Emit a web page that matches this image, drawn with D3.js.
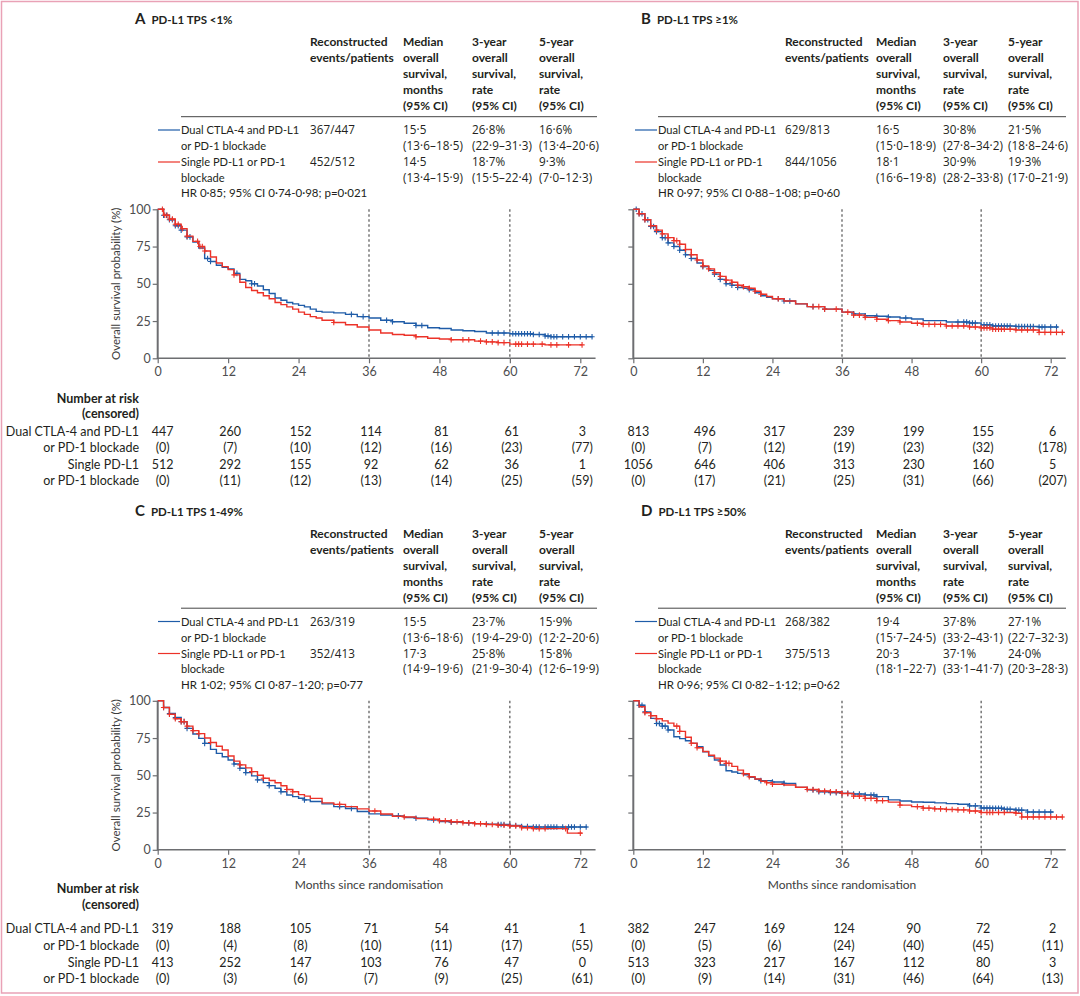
<!DOCTYPE html>
<html><head><meta charset="utf-8">
<script src="https://cdn.jsdelivr.net/npm/d3@7"></script>
<style>
body{margin:0;background:#fff}
svg{display:block}
</style>
</head><body>
<svg id="chart" width="1080" height="996" font-family="Lato,'Open Sans',sans-serif"></svg>
<script>
// ---------- DATA ----------
const timeTicks = [0, 12, 24, 36, 48, 60, 72];
const survTicks = [0, 25, 50, 75, 100];
const landmarks = [36, 60];
const panelLetters = ["A", "B", "C", "D"];
const panelTitles = ["PD-L1 TPS <1%", "PD-L1 TPS \u22651%", "PD-L1 TPS 1-49%", "PD-L1 TPS \u226550%"];
const colHeaders = [
  ["Reconstructed", "events/patients"],
  ["Median", "overall", "survival,", "months", "(95% CI)"],
  ["3-year", "overall", "survival,", "rate", "(95% CI)"],
  ["5-year", "overall", "survival,", "rate", "(95% CI)"]
];
const dualLabel = ["Dual CTLA-4 and PD-L1", "or PD-1 blockade"];
const singleLabel = ["Single PD-L1 or PD-1", "blockade"];
const riskLabelsDual = ["Dual CTLA-4 and PD-L1", "or PD-1 blockade"];
const riskLabelsSingle = ["Single PD-L1", "or PD-1 blockade"];

const eventsDual = ["367/447", "629/813", "263/319", "268/382"];
const eventsSingle = ["452/512", "844/1056", "352/413", "375/513"];
const medianDual = [["15\u00b75", "(13\u00b76\u201318\u00b75)"], ["16\u00b75", "(15\u00b70\u201318\u00b79)"], ["15\u00b75", "(13\u00b76\u201318\u00b76)"], ["19\u00b74", "(15\u00b77\u201324\u00b75)"]];
const medianSingle = [["14\u00b75", "(13\u00b74\u201315\u00b79)"], ["18\u00b71", "(16\u00b76\u201319\u00b78)"], ["17\u00b73", "(14\u00b79\u201319\u00b76)"], ["20\u00b73", "(18\u00b71\u201322\u00b77)"]];
const os3Dual = [["26\u00b78%", "(22\u00b79\u201331\u00b73)"], ["30\u00b78%", "(27\u00b78\u201334\u00b72)"], ["23\u00b77%", "(19\u00b74\u201329\u00b70)"], ["37\u00b78%", "(33\u00b72\u201343\u00b71)"]];
const os3Single = [["18\u00b77%", "(15\u00b75\u201322\u00b74)"], ["30\u00b79%", "(28\u00b72\u201333\u00b78)"], ["25\u00b78%", "(21\u00b79\u201330\u00b74)"], ["37\u00b71%", "(33\u00b71\u201341\u00b77)"]];
const os5Dual = [["16\u00b76%", "(13\u00b74\u201320\u00b76)"], ["21\u00b75%", "(18\u00b78\u201324\u00b76)"], ["15\u00b79%", "(12\u00b72\u201320\u00b76)"], ["27\u00b71%", "(22\u00b77\u201332\u00b73)"]];
const os5Single = [["9\u00b73%", "(7\u00b70\u201312\u00b73)"], ["19\u00b73%", "(17\u00b70\u201321\u00b79)"], ["15\u00b78%", "(12\u00b76\u201319\u00b79)"], ["24\u00b70%", "(20\u00b73\u201328\u00b73)"]];
const hrText = [
  "HR 0\u00b785; 95% CI 0\u00b774-0\u00b798; p=0\u00b7021",
  "HR 0\u00b797; 95% CI 0\u00b788\u20131\u00b708; p=0\u00b760",
  "HR 1\u00b702; 95% CI 0\u00b787\u20131\u00b720; p=0\u00b777",
  "HR 0\u00b796; 95% CI 0\u00b782\u20131\u00b712; p=0\u00b762"
];

const riskDualA = [447, 260, 152, 114, 81, 61, 3];
const censDualA = [0, 7, 10, 12, 16, 23, 77];
const riskSingleA = [512, 292, 155, 92, 62, 36, 1];
const censSingleA = [0, 11, 12, 13, 14, 25, 59];
const riskDualB = [813, 496, 317, 239, 199, 155, 6];
const censDualB = [0, 7, 12, 19, 23, 32, 178];
const riskSingleB = [1056, 646, 406, 313, 230, 160, 5];
const censSingleB = [0, 17, 21, 25, 31, 66, 207];
const riskDualC = [319, 188, 105, 71, 54, 41, 1];
const censDualC = [0, 4, 8, 10, 11, 17, 55];
const riskSingleC = [413, 252, 147, 103, 76, 47, 0];
const censSingleC = [0, 3, 6, 7, 9, 25, 61];
const riskDualD = [382, 247, 169, 124, 90, 72, 2];
const censDualD = [0, 5, 6, 24, 40, 45, 11];
const riskSingleD = [513, 323, 217, 167, 112, 80, 3];
const censSingleD = [0, 9, 14, 31, 46, 64, 13];

// KM curves: [month, survival %]
const kmDualA = [[0,100],[1,96],[2,93],[3,89],[4,86],[5,81.5],[6,78],[7,74],[8,67],[9,65],[10,62.5],[11,61],[12,60],[13,57],[14,53],[15,52],[16,50],[17,48.5],[18,46],[19,43.5],[20,40.5],[21,39],[22,37.5],[23,36.5],[24,35.5],[25,34.5],[26,33],[27,31.5],[28,31],[30,30.5],[32,29.5],[34,28],[36,27],[38,25.5],[40,24.5],[42,23.5],[44,22],[46,20.5],[48,20],[50,19],[52,18.5],[54,18],[56,17],[60,16.5],[64,16],[66,15],[67,14.5],[74.1,14.5]];
const kmSingleA = [[0,100],[1,96],[2,93.5],[3,90],[4,87],[5,82],[6,78.5],[7,75],[8,72],[9,68],[10,64],[11,61.5],[12,59.5],[13,56],[14,51],[15,47.5],[16,45.5],[17,44],[18,42],[19,40],[20,37.5],[21,36],[22,34.5],[23,33],[24,31],[25,29.5],[26,28],[27,27],[28,25.5],[30,24],[32,22.5],[34,21],[36,19],[38,17],[40,16],[42,15.5],[44,14.5],[46,13.5],[48,13],[50,12.5],[54,11.5],[56,11],[58,10.5],[60,9.5],[66,9],[72.3,9]];
const kmDualB = [[0,100],[1,97],[2,93],[3,88.5],[4,85],[5,81],[6,77.5],[7,75],[8,72.5],[9,69.5],[10,67],[11,64],[12,61.5],[13,59],[14,56.5],[15,53],[16,50],[17,49],[18,47.5],[19,47],[20,46],[21,44],[22,42],[23,41],[24,40],[26,38.5],[28,36.5],[30,34.7],[33,33],[36,31],[38,29.8],[40,28.6],[42,28.2],[44,27.7],[46,27],[48,26.4],[50,25.3],[54,24.4],[58,23.7],[60,22.4],[62,21.7],[66,21.3],[70,21],[73.3,21]];
const kmSingleB = [[0,100],[1,97],[2,93],[3,89],[4,86],[5,83.5],[6,81],[7,79],[8,76.5],[9,73],[10,69.5],[11,66],[12,62],[13,60],[14,57.5],[15,55],[16,52.5],[17,51],[18,49],[19,48],[20,47],[21,45],[22,43],[23,41.5],[24,40],[26,38.5],[28,36.5],[30,34.7],[33,33],[36,31],[38,29],[40,27.5],[42,26.2],[44,25.3],[46,24.4],[48,23.5],[50,22.8],[54,21.7],[58,21],[60,20.4],[62,19.5],[66,19],[70,17.4],[74.2,17.4]];
const kmDualC = [[0,100],[1,95.5],[2,91.5],[3,88.8],[4,86],[5,81.5],[6,77.7],[7,74.8],[8,71.4],[9,67.4],[10,64.7],[11,62.5],[12,60.3],[13,57.6],[14,54.7],[15,51.8],[16,49.6],[17,46.9],[18,45.1],[19,43.1],[20,41.3],[21,39],[22,36.8],[23,35.7],[24,34.6],[25,33.5],[26,32.4],[28,30.8],[30,29],[32,27.7],[34,25.7],[36,24.1],[38,23.4],[40,22.8],[42,21.7],[44,21.2],[46,20.1],[48,19],[50,18.5],[52,18.1],[54,17.6],[56,17.2],[58,17],[60,16.3],[62,15.6],[64,15.3],[73.2,15.3]];
const kmSingleC = [[0,100],[1,95.5],[2,91],[3,88],[4,86],[5,83],[6,80],[7,78],[8,75],[9,72],[10,69.5],[11,67],[12,63],[13,59.5],[14,57],[15,55],[16,52.5],[17,50],[18,48],[19,46.5],[20,45],[21,43],[22,40.5],[23,39],[24,37],[25,36],[26,34.5],[28,31.5],[30,30.5],[32,29],[34,27.5],[36,26],[38,24],[40,22.5],[42,22],[44,21],[46,20.5],[48,19.5],[50,18.8],[52,18.2],[54,17.5],[56,17],[58,16.5],[60,16],[62,14.8],[64,14.2],[69.8,11.2],[72.3,11.2]];
const kmDualD = [[0,100],[1,97],[2,92.6],[3,88.2],[4,84.8],[5,83],[6,80.4],[7,75.9],[8,74.6],[9,73.2],[10,71.4],[11,69.2],[12,65.8],[13,62.9],[14,60.3],[15,56.9],[16,53.1],[17,52.2],[18,51.3],[19,50.4],[20,48.7],[21,47.3],[22,46.4],[24,45.5],[26,44.6],[28,41.9],[30,40.2],[32,39],[34,38.4],[36,37.9],[38,37.5],[40,36.8],[42,35.7],[44,33.5],[46,32.8],[48,32.1],[50,31.9],[52,31.5],[54,31],[56,30.6],[58,29.5],[60,28.1],[62,27.9],[64,27.2],[66,26.6],[68,25.4],[72.5,25.4]];
const kmSingleD = [[0,100],[1,96],[2,92],[3,90],[4,88],[5,86.5],[6,85],[7,83],[8,79.5],[9,75.5],[10,71.5],[11,68.5],[12,66],[13,63.5],[14,61.5],[15,59.5],[16,58],[17,56],[18,53.5],[19,51],[20,49],[21,47.5],[22,46],[23,45],[24,44],[26,43.5],[28,42],[30,40.5],[32,39.5],[34,39],[36,37.8],[38,36],[40,34.5],[42,33],[44,32],[46,30],[48,29],[50,28],[52,27.5],[54,27],[56,26.8],[58,26],[60,25],[62,25],[66,24.5],[67,22],[74.2,22]];

// censoring times (months)
const cenDualA = [1,1.5,2,2.5,3,3.5,4,5,5.5,8.5,9,13.5,16,16.5,33,35,39,40,44,45,57,58,59,60.5,61,61.5,62,62.5,63,63.5,64,65,66,66.5,67,67.5,68,69,70,71,72,73,74];
const cenSingleA = [0.8,1.2,1.6,2,2.5,3,3.5,4.2,5,6.8,7.2,7.6,8,13,30,44,50,52,53,55,56,57,58,59,61,61.5,62,63,64,65.5,67,68,70,72.3];
const cenDualB = [0.5,1,1.5,2,2.5,3,3.5,4,5,5.5,6,7,8,9,10,12,14,15,16,17,18,20,25,26,27,31,33,38,40,42,44,47,56,57,57.5,58,58.5,59,60.5,61,61.5,62,62.5,63,63.5,64,64.5,65,66,66.5,67,67.5,68,68.5,69,70,70.5,71,72,73];
const cenSingleB = [1,2,3,4,5,6,7,7.5,8,9,10,11,12,13,14,15,16,17,18,19,20,21,22,25,31,32,33,35,37,38,39,40,42,44,46,49,50,51,52,53,54,55,56,57,58,59,60,60.5,61,61.5,62,62.5,63,63.5,64,65,66,67,68,69,70,71,72,73,74];
const cenDualC = [1,2,3,4,4.5,5,8,13,14,15,17,19,21,25,31,33,41,44,47,50,53,56,58,58.5,59,60,61,62,63,64,64.5,65,66,66.5,67,67.5,68,69,70,70.5,71,72,73];
const cenSingleC = [1,2,3,4,4.5,5,6,7,9,14,16,18,22,23,31,37,42,47,48,49,50,51,52,53,54,55,56,57,58,59,60,61,62,63,64,65,66,69.5,72];
const cenDualD = [1,1.5,2,4,4.5,5,5.5,6,22,24,26,31,32,33,34,35,36,37,38,39,40,41,41.5,42,58,59,60,60.5,61,61.5,62,62.5,63,63.5,64,64.5,65,66,66.5,67,68,69,70,71,72];
const cenSingleD = [2,3,4,7.5,8,10,11,15,16,16.5,19,20,23,24,30,31,32,33,34,35,36,37,38,39,40,41,42,43,46,49,50,51,52,53,54,55,56,57,58,59,60,61,61.5,62,63,64,66,67,68,69,70,71,72,73,74];

// ---------- LAYOUT ----------
const BLUE = "#1f5ca8", RED = "#ec3228", TXT = "#231f20", GREY = "#6d6e71";
const NUMFONT = "'Open Sans', Lato, sans-serif";
const panels = [
  {x0:157.7, x72:580.3, dy:0, cols:[310,403,472,539], legX:158, txtX:181, ruleX2:597, left:true, letterX:135,
   risk:[riskDualA,censDualA,riskSingleA,censSingleA], riskY:[399,414,432,448,465,481], km:[kmDualA,kmSingleA], cen:[cenDualA,cenSingleA], xTitle:false},
  {x0:633.3, x72:1050.7, dy:0, cols:[785,876,943,1008], legX:635, txtX:658, ruleX2:1066, left:false, letterX:641,
   risk:[riskDualB,censDualB,riskSingleB,censSingleB], riskY:[399,414,432,448,465,481], km:[kmDualB,kmSingleB], cen:[cenDualB,cenSingleB], xTitle:false},
  {x0:157.7, x72:580.3, dy:491.5, cols:[310,403,472,539], legX:158, txtX:181, ruleX2:597, left:true, letterX:135,
   risk:[riskDualC,censDualC,riskSingleC,censSingleC], riskY:[889,905,929,946,963,979], km:[kmDualC,kmSingleC], cen:[cenDualC,cenSingleC], xTitle:true},
  {x0:633.3, x72:1050.7, dy:491.5, cols:[785,876,943,1008], legX:635, txtX:658, ruleX2:1066, left:false, letterX:641,
   risk:[riskDualD,censDualD,riskSingleD,censSingleD], riskY:[889,905,929,946,963,979], km:[kmDualD,kmSingleD], cen:[cenDualD,cenSingleD], xTitle:true}
];

const svg = d3.select("#chart");
svg.append("rect").attr("x",1.5).attr("y",1.5).attr("width",1076.5).attr("height",991.5)
  .attr("fill","#fff").attr("stroke","#e9a2b6").attr("stroke-width",1.5);

function stepAt(series, t){
  let v = series[0][1];
  for (const p of series){ if (p[0] <= t) v = p[1]; else break; }
  return v;
}

panels.forEach((P, i) => {
  const g = svg.append("g");
  const dy = P.dy;
  const letter = g.append("text").attr("x",P.letterX).attr("y",24+dy).attr("font-size",15).attr("font-weight",700).attr("fill",TXT).text(panelLetters[i]);
  const lw = letter.node().getComputedTextLength();
  g.append("text").attr("x",P.letterX+lw+6).attr("y",24+dy).attr("font-size",11.5).attr("font-weight",700).attr("fill",TXT).text(panelTitles[i]);
  colHeaders.forEach((lines, c) => {
    lines.forEach((ln, k) => {
      g.append("text").attr("x",P.cols[c]).attr("y",46+16*k+dy).attr("font-size",12).attr("font-weight",700).attr("fill",TXT).text(ln);
    });
  });
  g.append("line").attr("x1",P.txtX).attr("x2",P.ruleX2).attr("y1",116.7+dy).attr("y2",116.7+dy).attr("stroke","#444").attr("stroke-width",1);
  const rowY = [134,150,166,181.5,197].map(v => v+dy);
  g.append("line").attr("x1",P.legX).attr("x2",P.txtX-1).attr("y1",rowY[0]-4).attr("y2",rowY[0]-4).attr("stroke",BLUE).attr("stroke-width",1.2);
  g.append("line").attr("x1",P.legX).attr("x2",P.txtX-1).attr("y1",rowY[2]-4).attr("y2",rowY[2]-4).attr("stroke",RED).attr("stroke-width",1.2);
  const rowsText = [
    [dualLabel[0], eventsDual[i], medianDual[i][0], os3Dual[i][0], os5Dual[i][0]],
    [dualLabel[1], "", medianDual[i][1], os3Dual[i][1], os5Dual[i][1]],
    [singleLabel[0], eventsSingle[i], medianSingle[i][0], os3Single[i][0], os5Single[i][0]],
    [singleLabel[1], "", medianSingle[i][1], os3Single[i][1], os5Single[i][1]]
  ];
  const xs = [P.txtX].concat(P.cols);
  rowsText.forEach((r, k) => {
    r.forEach((t, c) => {
      if (!t) return;
      const el = g.append("text").attr("x",xs[c]).attr("y",rowY[k]).attr("fill",TXT).text(t);
      if (c === 0) el.attr("font-size",11.1);
      else el.attr("font-size",11.7).attr("letter-spacing",0.1).style("font-family",NUMFONT);
    });
  });
  g.append("text").attr("x",P.txtX).attr("y",rowY[4]).attr("font-size",11.5).attr("fill",TXT).text(hrText[i]);

  // plot
  const x = d3.scaleLinear().domain([0,72]).range([P.x0,P.x72]);
  const y = d3.scaleLinear().domain([0,100]).range([358.3+dy,209.3+dy]);
  landmarks.forEach(m => {
    g.append("line").attr("x1",x(m)).attr("x2",x(m)).attr("y1",y(100)).attr("y2",y(0))
      .attr("stroke","#444").attr("stroke-width",1.1).attr("stroke-dasharray","2.5,2.5");
  });
  const yAx = g.append("g").attr("transform",`translate(${P.x0},0)`)
    .call(d3.axisLeft(y).tickValues(survTicks).tickSize(5).tickPadding(2).tickFormat(P.left ? d3.format("d") : ""));
  yAx.attr("font-family",null).attr("font-size",null);
  yAx.select(".domain").remove();
  yAx.selectAll("line").attr("stroke",GREY).attr("stroke-width",1.2);
  yAx.selectAll("text").attr("font-size",12.5).attr("fill","#4d4d4f");
  g.append("line").attr("x1",P.x0).attr("x2",P.x0).attr("y1",y(100)).attr("y2",y(0)+0.7).attr("stroke",GREY).attr("stroke-width",2);
  const xAx = g.append("g").attr("transform",`translate(0,${y(0)})`)
    .call(d3.axisBottom(x).tickValues(timeTicks).tickSize(5).tickPadding(4));
  xAx.attr("font-family",null).attr("font-size",null);
  xAx.select(".domain").remove();
  xAx.selectAll("line").attr("stroke",GREY).attr("stroke-width",1.2);
  xAx.selectAll("text").attr("font-size",12.5).attr("fill","#4d4d4f");
  g.append("line").attr("x1",P.x0).attr("x2",x(74.6)).attr("y1",y(0)).attr("y2",y(0)).attr("stroke",GREY).attr("stroke-width",1.5);

  if (P.left){
    g.append("text").attr("transform",`translate(117,${(y(0)+y(100))/2}) rotate(-90)`).attr("text-anchor","middle")
      .attr("dominant-baseline","middle").attr("font-size",11.5).attr("fill","#3c3c3c").text("Overall survival probability (%)");
  }
  if (P.xTitle){
    g.append("text").attr("x",(P.x0+P.x72)/2).attr("y",889).attr("text-anchor","middle").attr("font-size",12)
      .attr("fill","#3c3c3c").text("Months since randomisation");
  }

  // curves
  const line = d3.line().x(d => x(d[0])).y(d => y(d[1])).curve(d3.curveStepAfter);
  const colors = [BLUE, RED];
  [0,1].forEach(s => {
    g.append("path").datum(P.km[s]).attr("d",line).attr("fill","none").attr("stroke",colors[s]).attr("stroke-width",1.4);
    const cg = g.append("g").attr("stroke",colors[s]).attr("stroke-width",1.1);
    P.cen[s].forEach(t => {
      const cx = x(t), cy = y(stepAt(P.km[s], t));
      cg.append("path").attr("d",`M${cx-2.6},${cy}H${cx+2.6}M${cx},${cy-2.8}V${cy+2.8}`);
    });
  });

  // risk table
  const RY = P.riskY;
  if (P.left){
    const lab = [["Number at risk",RY[0],700],["(censored)",RY[1],700],[riskLabelsDual[0],RY[2],400],[riskLabelsDual[1],RY[3],400],[riskLabelsSingle[0],RY[4],400],[riskLabelsSingle[1],RY[5],400]];
    lab.forEach(l => g.append("text").attr("x",139).attr("y",l[1]+4).attr("text-anchor","end").attr("font-size",12.5)
      .attr("font-weight",l[2]).attr("fill",TXT).text(l[0]));
  }
  const rowVals = [P.risk[0], P.risk[1].map(v => `(${v})`), P.risk[2], P.risk[3].map(v => `(${v})`)];
  rowVals.forEach((vals, k) => {
    vals.forEach((v, j) => {
      g.append("text").attr("x",x(timeTicks[j]) + (j===0 ? 5 : 2)).attr("y",RY[k+2]+4).attr("text-anchor","middle")
        .attr("font-size",12.5).attr("fill",TXT).text(v);
    });
  });
});
</script>
</body></html>
